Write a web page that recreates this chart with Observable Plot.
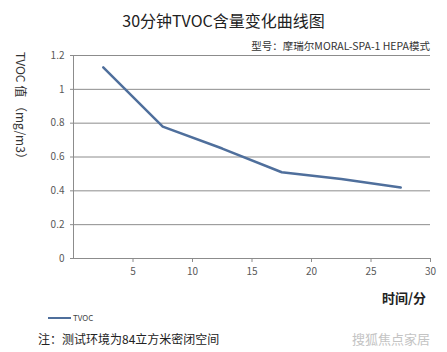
<!DOCTYPE html>
<html><head><meta charset="utf-8">
<script src="https://cdn.jsdelivr.net/npm/d3@7"></script>
<script src="https://cdn.jsdelivr.net/npm/@observablehq/plot@0.6"></script>
<style>
body{margin:0;background:#fff;font-family:"Noto Sans CJK SC","Noto Sans",sans-serif;}
#wrap{position:relative;width:447px;height:352px;overflow:hidden;background:#fff;}
.t{position:absolute;white-space:nowrap;}
</style></head><body>
<div id="wrap"></div>
<script>
const minutes = [2.5, 7.5, 12.5, 17.5, 22.5, 27.5];
const tvoc = [1.13, 0.78, 0.65, 0.51, 0.47, 0.42];
const xTicks = [5, 10, 15, 20, 25, 30];
const yTicks = [0, 0.2, 0.4, 0.6, 0.8, 1, 1.2];
const seriesName = "TVOC";
const title = "30分钟TVOC含量变化曲线图";
const subtitle = "型号：摩瑞尔MORAL-SPA-1 HEPA模式";
const yLabel = "TVOC 值 （mg/m3）";
const xLabel = "时间/分";
const note = "注：测试环境为84立方米密闭空间";
const watermark = "搜狐焦点家居";

const data = minutes.map((m, i) => ({m, v: tvoc[i]}));

const plot = Plot.plot({
  width: 447, height: 352,
  marginTop: 55, marginBottom: 94, marginLeft: 73, marginRight: 17,
  style: {fontFamily: "'Noto Sans CJK SC', sans-serif", fontSize: "10px", color: "#595959", background: "transparent"},
  x: {domain: [0, 30], ticks: xTicks, label: null, tickSize: 4, tickPadding: 4},
  y: {domain: [0, 1.2], ticks: yTicks, label: null, tickSize: 3, tickPadding: 8, tickFormat: d => String(d)},
  marks: [
    Plot.gridY(yTicks.filter(d => d > 0), {stroke: "#8c8c8c", strokeOpacity: 1, strokeWidth: 1}),
    Plot.ruleY([0], {stroke: "#8c8c8c"}),
    Plot.ruleX([0], {stroke: "#8c8c8c"}),
    Plot.axisX({ticks: xTicks, tickSize: 4, stroke: "#8c8c8c", fill: "#595959", label: null}),
    Plot.axisY({ticks: yTicks, tickSize: 3, tickPadding: 6, stroke: "#8c8c8c", fill: "#595959", label: null, tickFormat: d => String(d)}),
    Plot.line(data, {x: "m", y: "v", stroke: "#4f6f9c", strokeWidth: 2.5})
  ]
});
const wrap = document.getElementById("wrap");
wrap.appendChild(plot);
plot.style.position = "absolute"; plot.style.left = "0"; plot.style.top = "0";

function addText(txt, css){
  const d = document.createElement("div");
  d.className = "t"; d.textContent = txt;
  Object.assign(d.style, css);
  wrap.appendChild(d);
  return d;
}
addText(title, {left: "0", width: "447px", textAlign: "center", top: "8px", fontSize: "16px", color: "#222"});
addText(subtitle, {right: "17px", top: "38px", fontSize: "10.5px", color: "#333"});
addText(yLabel, {left: "22px", top: "52px", fontSize: "12px", color: "#333", transformOrigin: "0 0", transform: "rotate(90deg) translate(0,-8px)"});
addText(xLabel, {left: "382px", top: "288px", fontSize: "13px", fontWeight: "bold", color: "#222"});
// legend
const lg = document.createElement("div");
lg.className = "t";
Object.assign(lg.style, {left: "48px", top: "312px", fontSize: "8px", color: "#444", display: "flex", alignItems: "center"});
lg.innerHTML = '<span style="display:inline-block;width:23px;height:2px;background:#4f6f9c;margin-right:2px"></span>' + seriesName;
wrap.appendChild(lg);
addText(note, {left: "38px", top: "330px", fontSize: "12px", color: "#222"});
addText(watermark, {left: "352px", top: "329px", fontSize: "13px", color: "#c4c4c4"});
</script>
</body></html>
